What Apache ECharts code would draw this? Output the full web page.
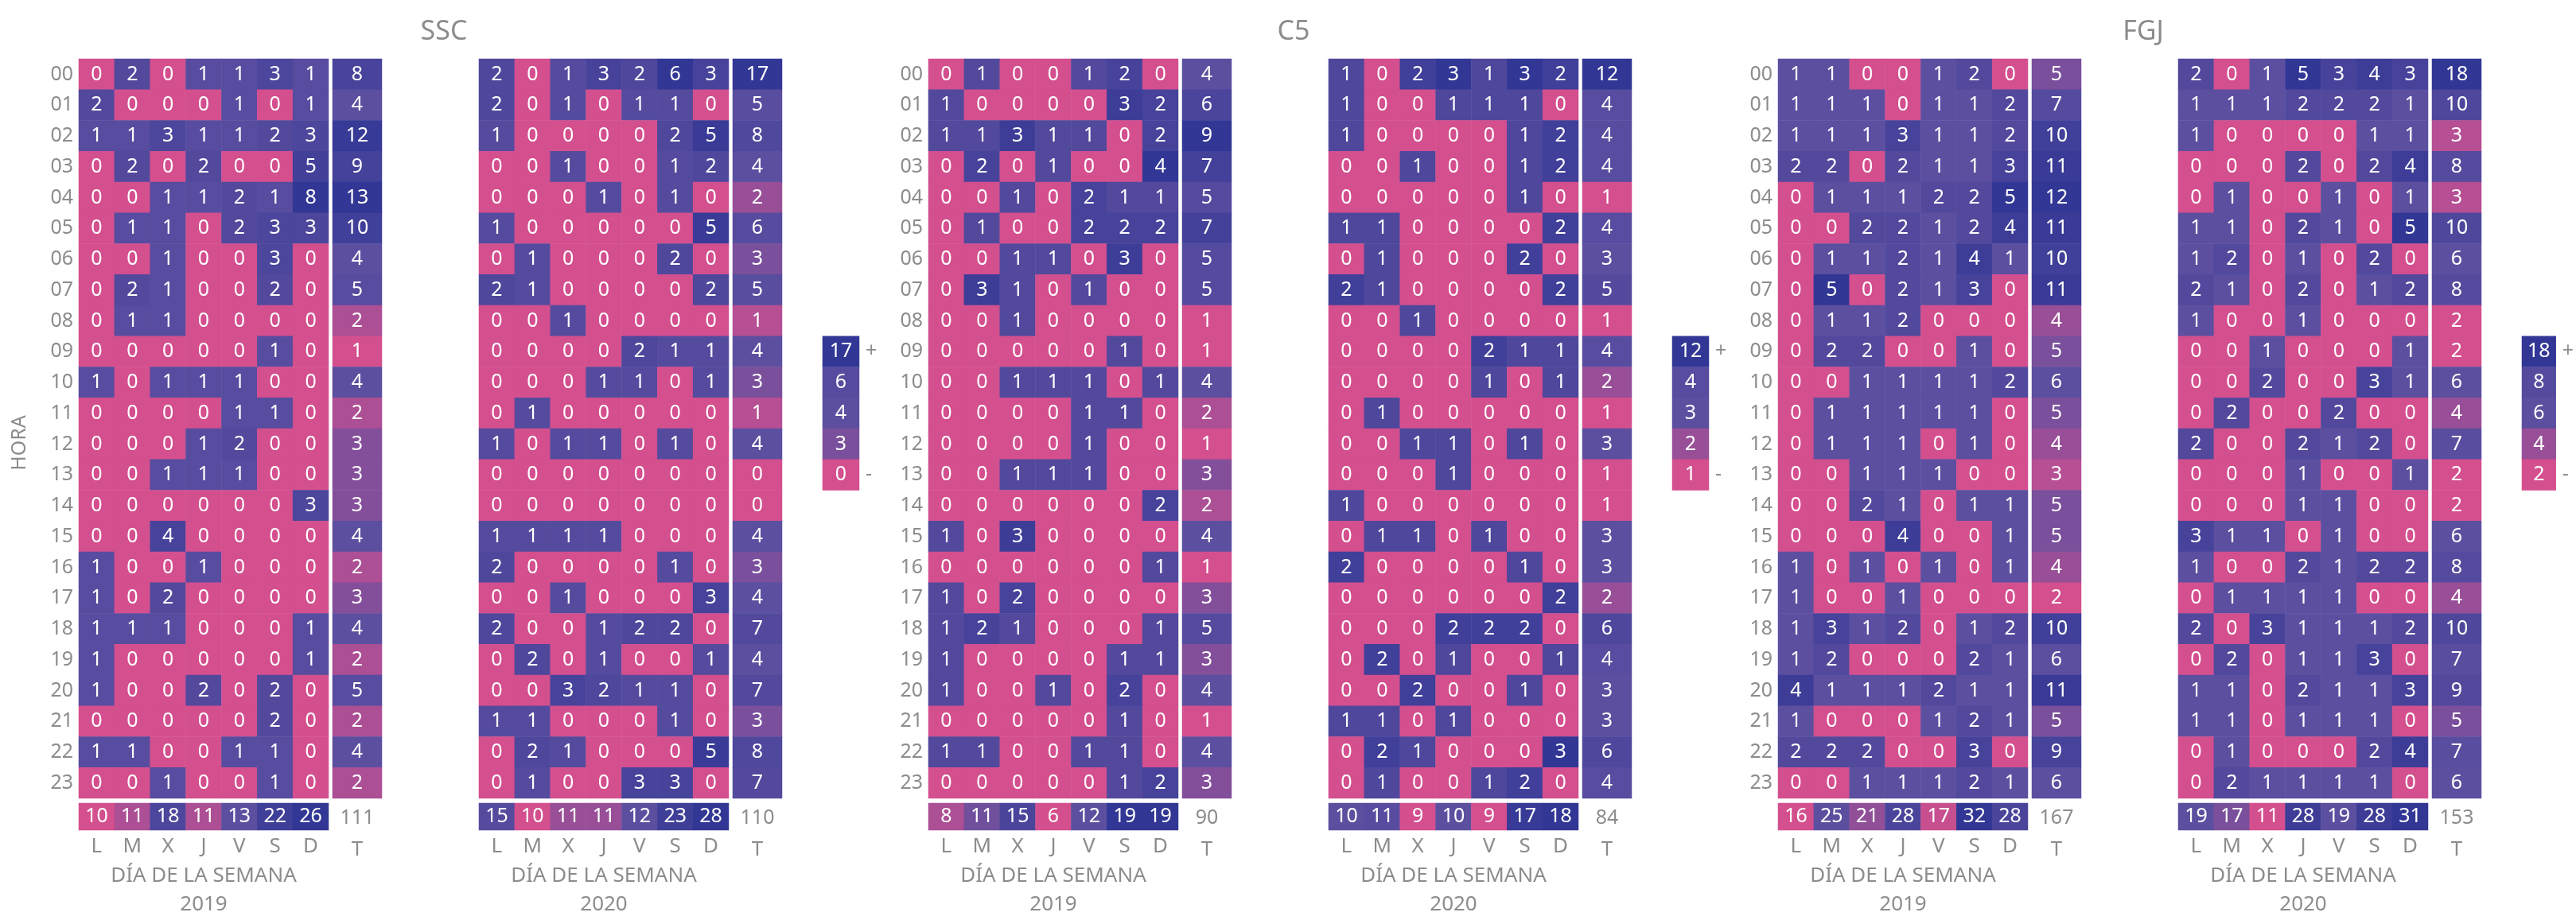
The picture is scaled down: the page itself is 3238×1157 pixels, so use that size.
<!DOCTYPE html>
<html><head><meta charset="utf-8">
<script src="https://cdn.jsdelivr.net/npm/echarts@6/dist/echarts.min.js"></script>
<style>html,body{margin:0;padding:0;background:#fff}#c{width:3238px;height:1157px}</style>
</head><body><div id="c"></div>
<script>
const hours = ['00','01','02','03','04','05','06','07','08','09','10','11','12','13','14','15','16','17','18','19','20','21','22','23'];
const days = ['L','M','X','J','V','S','D'];
const panelNames = ['SSC','C5','FGJ'];
const years = ['2019','2020'];

const ssc2019 = [[0,2,0,1,1,3,1],[2,0,0,0,1,0,1],[1,1,3,1,1,2,3],[0,2,0,2,0,0,5],[0,0,1,1,2,1,8],[0,1,1,0,2,3,3],[0,0,1,0,0,3,0],[0,2,1,0,0,2,0],[0,1,1,0,0,0,0],[0,0,0,0,0,1,0],[1,0,1,1,1,0,0],[0,0,0,0,1,1,0],[0,0,0,1,2,0,0],[0,0,1,1,1,0,0],[0,0,0,0,0,0,3],[0,0,4,0,0,0,0],[1,0,0,1,0,0,0],[1,0,2,0,0,0,0],[1,1,1,0,0,0,1],[1,0,0,0,0,0,1],[1,0,0,2,0,2,0],[0,0,0,0,0,2,0],[1,1,0,0,1,1,0],[0,0,1,0,0,1,0]];
const ssc2019T = [8,4,12,9,13,10,4,5,2,1,4,2,3,3,3,4,2,3,4,2,5,2,4,2];
const ssc2019D = [10,11,18,11,13,22,26];
const ssc2019All = 111;

const ssc2020 = [[2,0,1,3,2,6,3],[2,0,1,0,1,1,0],[1,0,0,0,0,2,5],[0,0,1,0,0,1,2],[0,0,0,1,0,1,0],[1,0,0,0,0,0,5],[0,1,0,0,0,2,0],[2,1,0,0,0,0,2],[0,0,1,0,0,0,0],[0,0,0,0,2,1,1],[0,0,0,1,1,0,1],[0,1,0,0,0,0,0],[1,0,1,1,0,1,0],[0,0,0,0,0,0,0],[0,0,0,0,0,0,0],[1,1,1,1,0,0,0],[2,0,0,0,0,1,0],[0,0,1,0,0,0,3],[2,0,0,1,2,2,0],[0,2,0,1,0,0,1],[0,0,3,2,1,1,0],[1,1,0,0,0,1,0],[0,2,1,0,0,0,5],[0,1,0,0,3,3,0]];
const ssc2020T = [17,5,8,4,2,6,3,5,1,4,3,1,4,0,0,4,3,4,7,4,7,3,8,7];
const ssc2020D = [15,10,11,11,12,23,28];
const ssc2020All = 110;

const c52019 = [[0,1,0,0,1,2,0],[1,0,0,0,0,3,2],[1,1,3,1,1,0,2],[0,2,0,1,0,0,4],[0,0,1,0,2,1,1],[0,1,0,0,2,2,2],[0,0,1,1,0,3,0],[0,3,1,0,1,0,0],[0,0,1,0,0,0,0],[0,0,0,0,0,1,0],[0,0,1,1,1,0,1],[0,0,0,0,1,1,0],[0,0,0,0,1,0,0],[0,0,1,1,1,0,0],[0,0,0,0,0,0,2],[1,0,3,0,0,0,0],[0,0,0,0,0,0,1],[1,0,2,0,0,0,0],[1,2,1,0,0,0,1],[1,0,0,0,0,1,1],[1,0,0,1,0,2,0],[0,0,0,0,0,1,0],[1,1,0,0,1,1,0],[0,0,0,0,0,1,2]];
const c52019T = [4,6,9,7,5,7,5,5,1,1,4,2,1,3,2,4,1,3,5,3,4,1,4,3];
const c52019D = [8,11,15,6,12,19,19];
const c52019All = 90;

const c52020 = [[1,0,2,3,1,3,2],[1,0,0,1,1,1,0],[1,0,0,0,0,1,2],[0,0,1,0,0,1,2],[0,0,0,0,0,1,0],[1,1,0,0,0,0,2],[0,1,0,0,0,2,0],[2,1,0,0,0,0,2],[0,0,1,0,0,0,0],[0,0,0,0,2,1,1],[0,0,0,0,1,0,1],[0,1,0,0,0,0,0],[0,0,1,1,0,1,0],[0,0,0,1,0,0,0],[1,0,0,0,0,0,0],[0,1,1,0,1,0,0],[2,0,0,0,0,1,0],[0,0,0,0,0,0,2],[0,0,0,2,2,2,0],[0,2,0,1,0,0,1],[0,0,2,0,0,1,0],[1,1,0,1,0,0,0],[0,2,1,0,0,0,3],[0,1,0,0,1,2,0]];
const c52020T = [12,4,4,4,1,4,3,5,1,4,2,1,3,1,1,3,3,2,6,4,3,3,6,4];
const c52020D = [10,11,9,10,9,17,18];
const c52020All = 84;

const fgj2019 = [[1,1,0,0,1,2,0],[1,1,1,0,1,1,2],[1,1,1,3,1,1,2],[2,2,0,2,1,1,3],[0,1,1,1,2,2,5],[0,0,2,2,1,2,4],[0,1,1,2,1,4,1],[0,5,0,2,1,3,0],[0,1,1,2,0,0,0],[0,2,2,0,0,1,0],[0,0,1,1,1,1,2],[0,1,1,1,1,1,0],[0,1,1,1,0,1,0],[0,0,1,1,1,0,0],[0,0,2,1,0,1,1],[0,0,0,4,0,0,1],[1,0,1,0,1,0,1],[1,0,0,1,0,0,0],[1,3,1,2,0,1,2],[1,2,0,0,0,2,1],[4,1,1,1,2,1,1],[1,0,0,0,1,2,1],[2,2,2,0,0,3,0],[0,0,1,1,1,2,1]];
const fgj2019T = [5,7,10,11,12,11,10,11,4,5,6,5,4,3,5,5,4,2,10,6,11,5,9,6];
const fgj2019D = [16,25,21,28,17,32,28];
const fgj2019All = 167;

const fgj2020 = [[2,0,1,5,3,4,3],[1,1,1,2,2,2,1],[1,0,0,0,0,1,1],[0,0,0,2,0,2,4],[0,1,0,0,1,0,1],[1,1,0,2,1,0,5],[1,2,0,1,0,2,0],[2,1,0,2,0,1,2],[1,0,0,1,0,0,0],[0,0,1,0,0,0,1],[0,0,2,0,0,3,1],[0,2,0,0,2,0,0],[2,0,0,2,1,2,0],[0,0,0,1,0,0,1],[0,0,0,1,1,0,0],[3,1,1,0,1,0,0],[1,0,0,2,1,2,2],[0,1,1,1,1,0,0],[2,0,3,1,1,1,2],[0,2,0,1,1,3,0],[1,1,0,2,1,1,3],[1,1,0,1,1,1,0],[0,1,0,0,0,2,4],[0,2,1,1,1,1,0]];
const fgj2020T = [18,10,3,8,3,10,6,8,2,2,6,4,7,2,2,6,8,4,10,7,9,5,7,6];
const fgj2020D = [19,17,11,28,19,28,31];
const fgj2020All = 153;

const sscLegend = ['17','6','4','3','0'];
const c5Legend = ['12','4','3','2','1'];
const fgjLegend = ['18','8','6','4','2'];

// ---------- assembly ----------
const panels = [
  {name:'SSC', legend:sscLegend, yrs:[[ssc2019,ssc2019T,ssc2019D,ssc2019All],[ssc2020,ssc2020T,ssc2020D,ssc2020All]]},
  {name:'C5', legend:c5Legend, yrs:[[c52019,c52019T,c52019D,c52019All],[c52020,c52020T,c52020D,c52020All]]},
  {name:'FGJ', legend:fgjLegend, yrs:[[fgj2019,fgj2019T,fgj2019D,fgj2019All],[fgj2020,fgj2020T,fgj2020D,fgj2020All]]}
];

const PINK=[212,79,142], MID=[92,79,160], DARK=[50,55,149];
const GRAY='#8c8c8c', FONT='"Noto Sans", sans-serif';
function mix(a,b,t){t=Math.max(0,Math.min(1,t));return 'rgb('+a.map((v,i)=>Math.round(v+(b[i]-v)*t)).join(',')+')';}
function stats(vals){const s=vals.slice().sort((a,b)=>a-b);const n=s.length;const med=n%2?s[(n-1)/2]:(s[n/2-1]+s[n/2])/2;return {min:s[0],max:s[n-1],med};}
function col(v,st){
  if(v<=st.med){ if(st.med===st.min) return mix(PINK,PINK,0); return mix(PINK,MID,(v-st.min)/(st.med-st.min)); }
  return mix(MID,DARK,(v-st.med)/(st.max-st.med));
}

const grids=[], xAxes=[], yAxes=[], series=[], titles=[];
const ROWH=38.75, TOP=74, CW=314, TW=62;
function addGrid(g,xa,ya){grids.push(g);const i=grids.length-1;xAxes.push(Object.assign({gridIndex:i,type:'category',axisLine:{show:false},axisTick:{show:false},splitLine:{show:false},axisLabel:{show:false}},xa));yAxes.push(Object.assign({gridIndex:i,type:'category',axisLine:{show:false},axisTick:{show:false},splitLine:{show:false},axisLabel:{show:false}},ya));return i;}
function heat(i,data,labelColor){series.push({type:'heatmap',xAxisIndex:i,yAxisIndex:i,data:data,emphasis:{disabled:true},itemStyle:{borderWidth:0},
  label:{show:true,color:labelColor||'#fff',fontSize:25,fontFamily:FONT,formatter:p=>p.value[2]}});}

panels.forEach((P,p)=>{
  const base=99+1068*p;
  P.yrs.forEach((Y,y)=>{
    const [cells,T,D,All]=Y;
    const x0=base+503*y;
    // hourly cells
    const flat=[];cells.forEach(r=>r.forEach(v=>flat.push(v)));
    const stC=stats(flat);
    const gA=addGrid({left:x0,top:TOP,width:CW,height:ROWH*24},{data:days},
      {data:hours,inverse:true,axisLabel:{show:y===0,color:GRAY,fontSize:25,fontFamily:FONT,margin:7}});
    const dA=[];cells.forEach((r,ri)=>r.forEach((v,ci)=>dA.push({value:[ci,ri,v],itemStyle:{color:col(v,stC)}})));
    heat(gA,dA);
    // T column
    const stT=stats(T);
    const gT=addGrid({left:x0+CW+5,top:TOP,width:TW,height:ROWH*24},{data:['T']},{data:hours,inverse:true});
    heat(gT,T.map((v,ri)=>({value:[0,ri,v],itemStyle:{color:col(v,stT)}})));
    // day totals row
    const stD=stats(D);
    const gB=addGrid({left:x0,top:1010,width:CW,height:38},
      {data:days,axisLabel:{show:true,color:GRAY,fontSize:26,fontFamily:FONT,margin:8},
       name:'DÍA DE LA SEMANA\n'+years[y],nameLocation:'middle',nameGap:40,
       nameTextStyle:{color:GRAY,fontSize:26,fontFamily:FONT,lineHeight:36}},
      {data:['t']});
    heat(gB,D.map((v,ci)=>({value:[ci,0,v],itemStyle:{color:col(v,stD)}})));
    // grand total
    const gG=addGrid({left:x0+CW+5,top:1010,width:TW,height:38},
      {data:['T'],axisLabel:{show:true,color:GRAY,fontSize:26,fontFamily:FONT,margin:8}},{data:['t']});
    heat(gG,[{value:[0,0,All],itemStyle:{color:'rgba(0,0,0,0)'}}],GRAY);
  });
  // legend
  const L=P.legend, nums=L.map(Number);
  const stL={min:nums[nums.length-1],max:nums[0],med:nums[2]};
  const lx=base+503+432;
  const gL=addGrid({left:lx,top:TOP+ROWH*9,width:46,height:ROWH*5},{data:['k']},
    {data:L,inverse:true,position:'right',axisLabel:{show:true,color:GRAY,fontSize:25,fontFamily:FONT,margin:8,
      formatter:(v,i)=>i===0?'+':(i===L.length-1?'-':'')}});
  heat(gL,L.map((v,i)=>({value:[0,i,Number(v)],itemStyle:{color:col(Number(v),stL)}})));
  titles.push({text:P.name,left:base+454,top:18,textAlign:'center',textStyle:{color:GRAY,fontSize:34,fontWeight:'normal',fontFamily:FONT}});
});

const chart=echarts.init(document.getElementById('c'),null,{renderer:'canvas'});
chart.setOption({
  animation:false,
  backgroundColor:'#fff',
  textStyle:{fontFamily:FONT},
  title:titles,
  grid:grids, xAxis:xAxes, yAxis:yAxes, series:series,
  graphic:[{type:'text',x:25,y:557,rotation:Math.PI/2,style:{text:'HORA',fill:GRAY,font:'25px "Noto Sans"',align:'center',verticalAlign:'middle'}}]
});
</script></body></html>
